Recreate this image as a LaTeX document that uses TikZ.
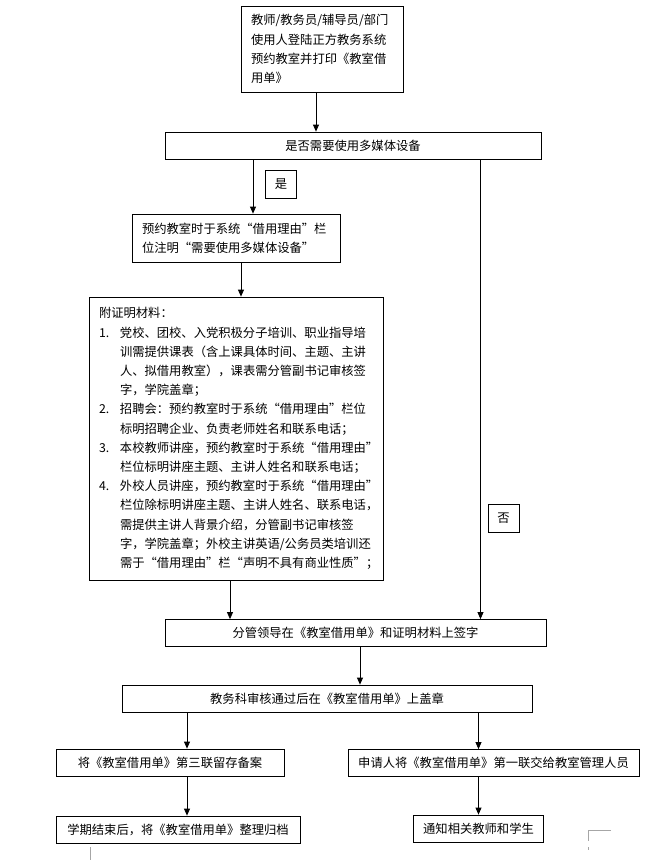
\documentclass[tikz,border=0pt]{standalone}
\usepackage{fontspec}
\setmainfont{Noto Sans CJK SC}
\usetikzlibrary{arrows.meta}
\newcommand{\itemno}[1]{\makebox[21pt][l]{#1}}

\tikzset{
	box/.style={draw, line width=0.8pt, inner xsep=10pt, inner ysep=2pt, font={\fontsize{12.3pt}{19.2pt}\selectfont}},
	flow/.style={-{Triangle[width=6pt,length=7pt]}, line width=0.8pt},
	tag/.style={box, inner xsep=2pt, minimum width=31pt, minimum height=28pt},
	corner/.style={line width=0.8pt, color=black!35}
}

\begin{document}
\begin{tikzpicture}[x=1pt, y=-1pt]
		%%%%% START %%%%%
		\useasboundingbox (0, 0) rectangle (669, 860);
		
		\node[box, text width=142pt, align=left, minimum height=86pt] (login) at (322, 49) {教师/教务员/辅导员/部门\\使用人登陆正方教务系统\\预约教室并打印《教室借\\用单》};
		\node[box, minimum width=376pt, minimum height=27pt] (media) at (353, 145.5) {是否需要使用多媒体设备};
		\node[tag] (yes) at (281, 184) {是};
		\node[box, text width=188pt, align=left, minimum height=48pt] (reason) at (236, 238) {预约教室时于系统“借用理由”栏\\位注明“需要使用多媒体设备”};
		
		\node[box, text width=274pt, align=left, minimum height=283pt] (proof) at (236, 438.5) {附证明材料：\\
			\itemno{1.}党校、团校、入党积极分子培训、职业指导培\\
			\itemno{}训需提供课表（含上课具体时间、主题、主讲\\
			\itemno{}人、拟借用教室），课表需分管副书记审核签\\
			\itemno{}字，学院盖章；\\
			\itemno{2.}招聘会：预约教室时于系统“借用理由”栏位\\
			\itemno{}标明招聘企业、负责老师姓名和联系电话；\\
			\itemno{3.}本校教师讲座，预约教室时于系统“借用理由”\\
			\itemno{}栏位标明讲座主题、主讲人姓名和联系电话；\\
			\itemno{4.}外校人员讲座，预约教室时于系统“借用理由”\\
			\itemno{}栏位除标明讲座主题、主讲人姓名、联系电话，\\
			\itemno{}需提供主讲人背景介绍，分管副书记审核签\\
			\itemno{}字，学院盖章；外校主讲英语/公务员类培训还\\
			\itemno{}需于“借用理由”栏“声明不具有商业性质”；};
		
		\node[tag] (no) at (503.5, 518.5) {否};
		\node[box, minimum width=381pt, minimum height=27pt] (sign) at (355.5, 633) {分管领导在《教室借用单》和证明材料上签字};
		\node[box, minimum width=410pt, minimum height=27pt] (stamp) at (327, 698.5) {教务科审核通过后在《教室借用单》上盖章};
		
		\node[box, minimum width=228pt, minimum height=27pt] (keep) at (170, 762.5) {将《教室借用单》第三联留存备案};
		\node[box, minimum width=291pt, minimum height=27pt] (hand) at (493.5, 763) {申请人将《教室借用单》第一联交给教室管理人员};
		\node[box, minimum width=244pt, minimum height=27pt] (file) at (178, 829.5) {学期结束后，将《教室借用单》整理归档};
		\node[box, minimum width=129pt, minimum height=27pt] (notify) at (478.5, 828.5) {通知相关教师和学生};
		
		\draw[flow] ([xshift=-6pt]login.south) -- ([xshift=-6pt]login.south |- media.north);
		\draw[flow] ([xshift=17pt]reason.north |- media.south) -- ([xshift=17pt]reason.north);
		\draw[flow] ([xshift=125pt]sign.north |- media.south) -- ([xshift=125pt]sign.north);
		\draw[flow] ([xshift=5pt]reason.south) -- ([xshift=5pt]reason.south |- proof.north);
		\draw[flow] ([xshift=-6pt]proof.south) -- ([xshift=-6pt]proof.south |- sign.north);
		\draw[flow] ([xshift=4.5pt]sign.south) -- ([xshift=4.5pt]sign.south |- stamp.north);
		\draw[flow] ([xshift=17pt]keep.north |- stamp.south) -- ([xshift=17pt]keep.north);
		\draw[flow] (notify.north |- stamp.south) -- (notify.north |- hand.north);
		\draw[flow] ([xshift=17pt]keep.south) -- ([xshift=17pt]keep.south |- file.north);
		\draw[flow] (notify.north |- hand.south) -- (notify.north);
		
		% page corner marks
		\draw[corner] (611, 830) -- (588, 830) -- (588, 841);
		\draw[corner] (588, 847) -- (588, 850);
		\draw[corner] (90, 847) -- (90, 860);
		
		%%%%% END %%%%%
\end{tikzpicture}
\end{document}
